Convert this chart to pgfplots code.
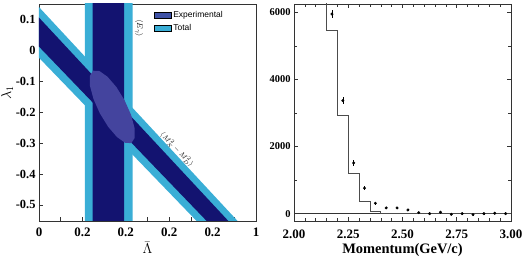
\documentclass[border=0pt]{standalone}
\usepackage{pgfplots}
\pgfplotsset{compat=1.18}
\usepackage{fontspec}
\setmainfont{Liberation Serif}
\setsansfont{Liberation Sans}
\definecolor{navyc}{HTML}{131370}
\definecolor{cyanb}{HTML}{3AAED6}
\definecolor{ellc}{HTML}{44449E}
\definecolor{expc}{HTML}{3F52A6}
\definecolor{axc}{HTML}{333333}
\begin{document}
\begin{tikzpicture}
\path[use as bounding box] (-39bp,-36bp) rectangle (486bp,221bp);
\begin{axis}[
  scale only axis, width=217bp, height=217bp,
  xmin=0, xmax=1, ymin=-0.552, ymax=0.15,
  axis line style={axc, line width=0.7pt},
  tick style={axc, line width=0.6pt},
  tick align=inside, xtick pos=bottom, ytick pos=left,
  major tick length=4bp, minor tick length=4bp,
  xtick={0,0.2,0.4,0.6,0.8,1},
  xticklabels={0,0.2,0.2,0.2,0.2,1},
  minor xtick={0.1,0.3,0.5,0.7,0.9},
  ytick={-0.5,-0.4,-0.3,-0.2,-0.1,0,0.1},
  yticklabels={-0.5,-0.4,-0.3,-0.2,-0.1,0,0.1},
  xticklabel style={font=\bfseries\fontsize{13}{13}\selectfont, yshift=-3bp},
  yticklabel style={font=\bfseries\fontsize{12.5}{12.5}\selectfont},
  xlabel={$\bar{\Lambda}$},
  xlabel style={at={(axis description cs:0.5,-0.124)}, anchor=center, font=\fontsize{15}{15}\selectfont},
  ylabel={$\lambda_1$},
  ylabel style={at={(axis description cs:-0.147,0.59)}, anchor=center, font=\fontsize{14}{14}\selectfont},
  legend style={at={(axis description cs:0.515,0.985)}, anchor=north west, draw=none, fill=none,
    font=\sffamily\fontsize{8.5}{10}\selectfont, row sep=1.5bp},
  legend cell align=left,
]
\addplot[fill=cyanb, draw=none, forget plot] coordinates {(-0.05,0.1778) (1.1,-0.6916) (1.1,-0.8237) (-0.05,0.0124) (-0.05,0.1778)};
\addplot[fill=cyanb, draw=none, forget plot] coordinates {(0.211,0.3) (0.432,0.3) (0.432,-0.7) (0.211,-0.7) (0.211,0.3)};
\addplot[fill=navyc, draw=none, forget plot] coordinates {(-0.05,0.1437) (1.1,-0.7234) (1.1,-0.791) (-0.05,0.0485) (-0.05,0.1437)};
\addplot[fill=navyc, draw=none, forget plot] coordinates {(0.247,0.3) (0.392,0.3) (0.392,-0.7) (0.247,-0.7) (0.247,0.3)};
\addplot[fill=ellc, draw=none, forget plot] coordinates {
 (0.4258,-0.300) (0.4409,-0.283) (0.4402,-0.2507) (0.4240,-0.2082)
 (0.3945,-0.1618) (0.3565,-0.1185) (0.3155,-0.0852) (0.2780,-0.0666)
 (0.2495,-0.0658) (0.2344,-0.0828) (0.2350,-0.1151) (0.2513,-0.1576)
 (0.2807,-0.2040) (0.3188,-0.2473) (0.3597,-0.2806) (0.3972,-0.2992) (0.4258,-0.300)};
\addlegendimage{area legend, fill=expc, draw=none}
\addlegendentry{Experimental}
\addlegendimage{area legend, fill=cyanb, draw=none}
\addlegendentry{Total}
\node[rotate=-90, font=\fontsize{8.5}{8.5}\selectfont] at (axis cs:0.461,0.071) {$\langle E_\gamma\rangle$};
\node[rotate=-46, font=\fontsize{7.5}{7.5}\selectfont] at (axis cs:0.636,-0.320) {$\langle M_X^2-M_D^2\rangle$};
\end{axis}

\begin{axis}[
  at={(255bp,0bp)},
  scale only axis, width=217bp, height=217bp,
  xmin=2, xmax=3, ymin=-220, ymax=6250,
  axis line style={axc, line width=0.7pt},
  tick style={axc, line width=0.6pt},
  tick align=inside, tick pos=both,
  major tick length=4bp, minor tick length=3bp,
  xtick={2,2.25,2.5,2.75,3},
  xticklabels={2.00,2.25,2.50,2.75,3.00},
  minor x tick num=4,
  ytick={0,2000,4000,6000},
  yticklabels={0,2000,4000,6000},
  minor y tick num=1,
  xticklabel style={font=\bfseries\fontsize{13}{13}\selectfont, yshift=-5bp},
  yticklabel style={font=\bfseries\fontsize{10.5}{10.5}\selectfont},
  xlabel={\bfseries Momentum(GeV/c)},
  xlabel style={at={(axis description cs:0.5,-0.132)}, anchor=center, font=\fontsize{14.5}{14.5}\selectfont},
]
\addplot[axc, line width=0.6pt, forget plot] coordinates {(2,0) (3,0)};
\addplot[const plot, color=black!70, line width=0.7pt] coordinates {
 (2.10,8000) (2.15,5450) (2.20,2940) (2.25,1210) (2.30,370) (2.35,60) (2.40,10) (2.45,0) (3.0,0)};
\addplot[only marks, mark=*, mark size=1.3pt, black,
  error bars/.cd, y dir=both, y explicit, error bar style={line width=0.6pt}, error mark=none]
  coordinates {
 (2.175,5950) +- (0,130)
 (2.225,3370) +- (0,110)
 (2.275,1510) +- (0,80)
 (2.325,760) +- (0,60)
 (2.375,310) +- (0,50)
 (2.425,170) +- (0,40)
 (2.475,170) +- (0,40)
 (2.525,110) +- (0,40)
 (2.575,30) +- (0,30)
 (2.625,0) +- (0,30)
 (2.675,40) +- (0,30)
 (2.725,-20) +- (0,30)
 (2.775,0) +- (0,30)
 (2.825,-30) +- (0,30)
 (2.875,0) +- (0,30)
 (2.925,10) +- (0,30)
 (2.975,0) +- (0,30)};
\end{axis}
\end{tikzpicture}
\end{document}
